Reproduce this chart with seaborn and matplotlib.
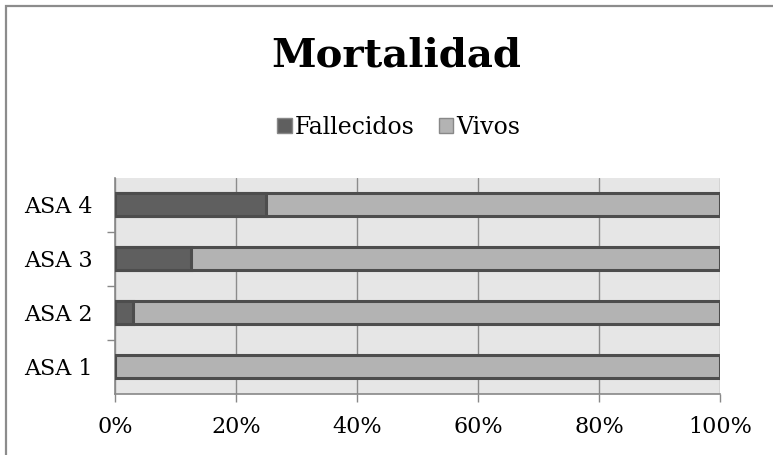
import matplotlib
matplotlib.use('Agg')
import matplotlib.pyplot as plt
import seaborn as sns
import pandas as pd
from matplotlib.patches import Patch, Rectangle

# Data (percent of patients)
categorias = ['ASA 4', 'ASA 3', 'ASA 2', 'ASA 1']
fallecidos = [25.0, 12.5, 3.0, 0.0]
vivos = [75.0, 87.5, 97.0, 100.0]
ticks_x = [0, 20, 40, 60, 80, 100]
ticks_x_labels = ['0%', '20%', '40%', '60%', '80%', '100%']

df = pd.DataFrame({'ASA': categorias, 'Fallecidos': fallecidos, 'Vivos': vivos})
df['Total'] = df['Fallecidos'] + df['Vivos']

sns.set_style('white')
plt.rcParams['font.family'] = ['DejaVu Serif']
plt.rcParams['text.color'] = 'black'
plt.rcParams['xtick.color'] = 'black'
plt.rcParams['ytick.color'] = 'black'

c_fall = '#5f5f5f'
c_vivo = '#b3b3b3'
c_edge = '#4d4d4d'

fig = plt.figure(figsize=(7.73, 4.55), dpi=100)
ax = fig.add_axes([115 / 773, 1 - 393.5 / 455, 605 / 773, 216 / 455])
ax.set_facecolor('#e6e6e6')

# stacked 100% bars: total first (light), then Fallecidos over it (dark)
sns.barplot(data=df, x='Total', y='ASA', order=categorias, color=c_vivo,
            width=0.43, edgecolor=c_edge, linewidth=2.2, saturation=1, ax=ax, zorder=3)
sns.barplot(data=df, x='Fallecidos', y='ASA', order=categorias, color=c_fall,
            width=0.43, edgecolor=c_edge, linewidth=2.2, saturation=1, ax=ax, zorder=4)

ax.set_xlim(0, 100)
ax.set_ylim(3.5, -0.5)
ax.set_xticks(ticks_x)
ax.set_xticklabels(ticks_x_labels, fontsize=16)
ax.set_yticks(range(len(categorias)))
ax.set_yticklabels(categorias, fontsize=16)
ax.set_yticks([0.5, 1.5, 2.5], minor=True)
ax.tick_params(axis='y', which='major', left=True, length=0, pad=16)
ax.tick_params(axis='y', which='minor', left=True, length=6, color='#888888', width=1)
ax.tick_params(axis='x', bottom=True, length=6, color='#888888', width=1, pad=10)
ax.set_xlabel('')
ax.set_ylabel('')
ax.xaxis.grid(True, color='#8c8c8c', linewidth=1)
ax.set_axisbelow(True)
for s in ['top', 'right']:
    ax.spines[s].set_visible(False)
for s in ['left', 'bottom']:
    ax.spines[s].set_color('#888888')
    ax.spines[s].set_linewidth(1.2)

fig.text(0.513, 0.879, 'Mortalidad', ha='center', va='center',
         fontsize=29, fontweight='bold')

handles = [Patch(facecolor=c_fall, edgecolor='#888888', label='Fallecidos'),
           Patch(facecolor=c_vivo, edgecolor='#888888', label='Vivos')]
fig.legend(handles=handles, loc='center', bbox_to_anchor=(0.516, 0.72), ncol=2,
           frameon=False, fontsize=17, handlelength=0.6, handleheight=0.6,
           handletextpad=0.15, columnspacing=1.0)

# chart frame (only the top and left edges fall inside the image)
fig.patches.append(Rectangle((6 / 773, -0.1), 1.2, 1 - 6 / 455 + 0.1,
                             transform=fig.transFigure, fill=False,
                             edgecolor='#8c8c8c', linewidth=1.6))

fig.savefig('out.png', dpi=100)
